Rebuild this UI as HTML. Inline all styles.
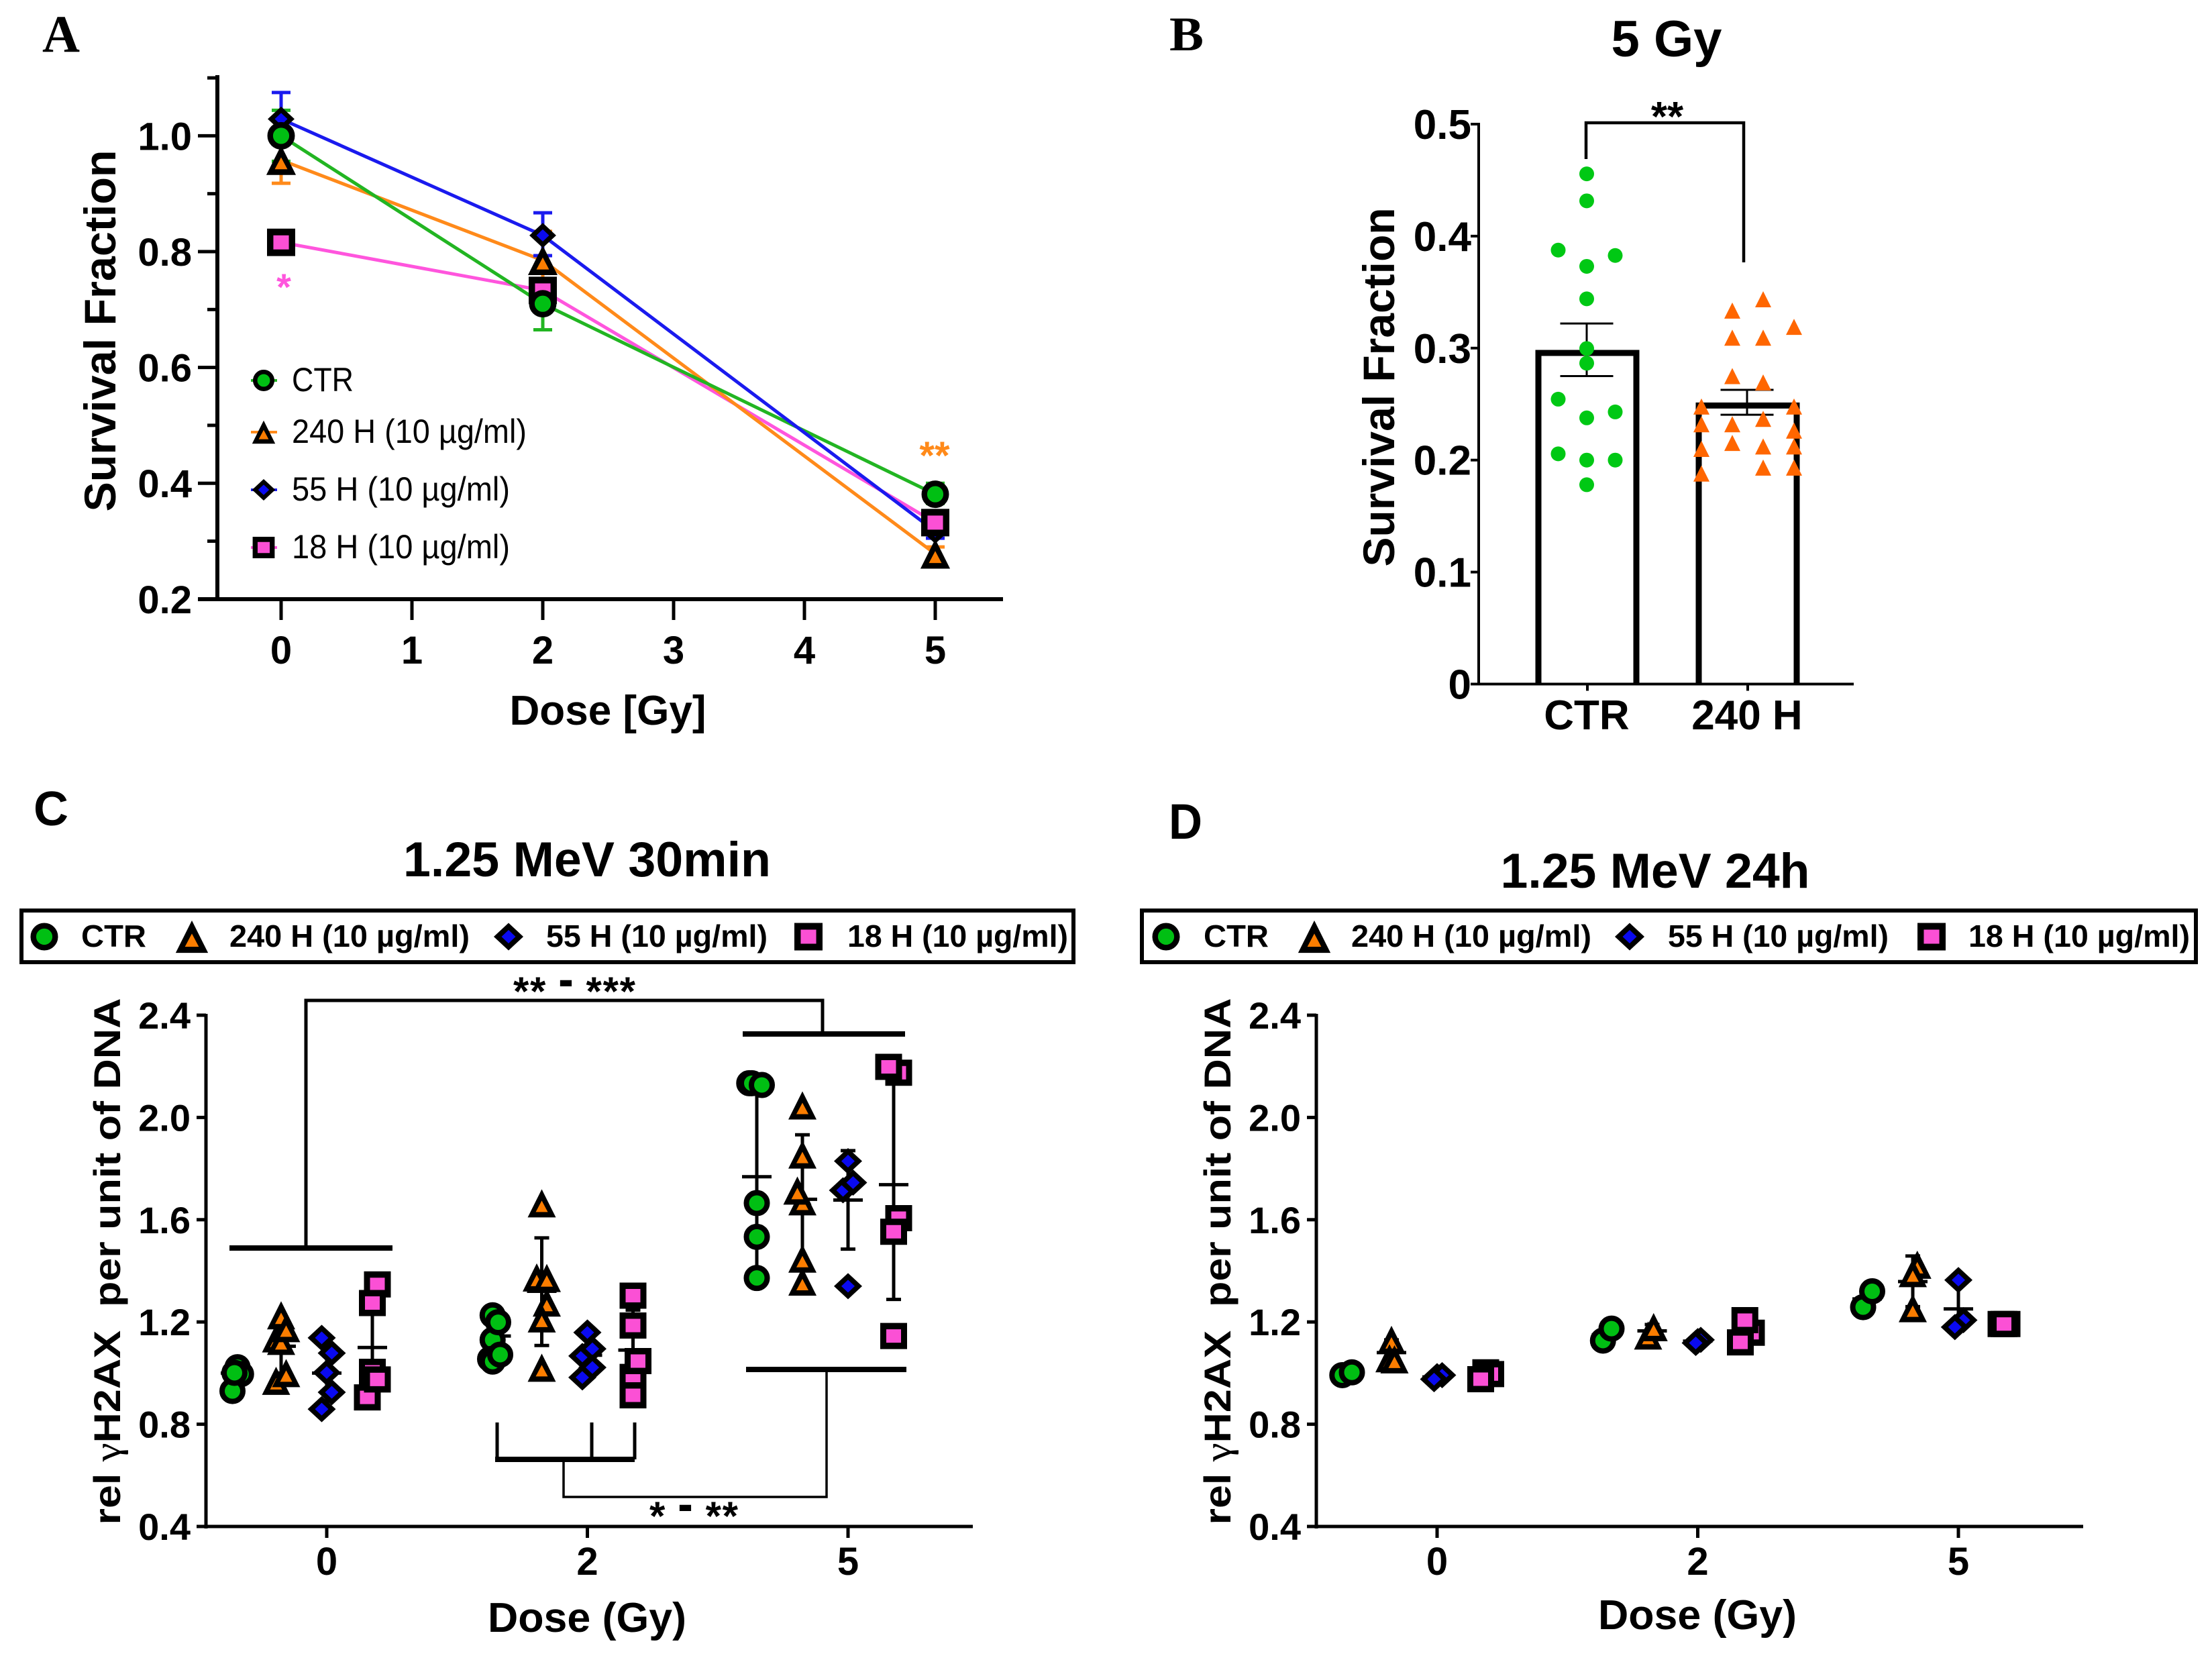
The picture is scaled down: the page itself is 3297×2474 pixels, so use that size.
<!DOCTYPE html>
<html lang="en">
<head>
<meta charset="utf-8">
<title>Survival fraction and γH2AX panels</title>
<style>
html,body{margin:0;padding:0;background:#fff}
svg{display:block}
text{font-family:"Liberation Sans",sans-serif;fill:#000}
.b{font-weight:700}
</style>
</head>
<body>
<svg id="fig" xmlns="http://www.w3.org/2000/svg" width="3297" height="2474" viewBox="0 0 3297 2474">
<rect width="3297" height="2474" fill="#fff"/>

<g id="panel-a">
  <text x="63" y="77" textLength="56" lengthAdjust="spacingAndGlyphs" style="font-family:'Liberation Serif',serif;font-weight:700;font-size:78px">A</text>
  <text class="b" transform="translate(172,493) rotate(-90)" text-anchor="middle" font-size="66" textLength="539" lengthAdjust="spacingAndGlyphs">Survival Fraction</text>
  <text class="b" x="906" y="1080" text-anchor="middle" font-size="62" textLength="293" lengthAdjust="spacingAndGlyphs">Dose [Gy]</text>
  <text class="b" x="423" y="447" text-anchor="middle" font-size="56" style="fill:#ff55dd">*</text>
  <text class="b" x="1393" y="699" text-anchor="middle" font-size="58" style="fill:#ff8a1a">**</text>
  <text x="435" y="583" font-size="50" textLength="92" lengthAdjust="spacingAndGlyphs">CTR</text>
  <text x="435" y="660" font-size="50" textLength="350" lengthAdjust="spacingAndGlyphs">240 H (10 µg/ml)</text>
  <text x="435" y="746" font-size="50" textLength="325" lengthAdjust="spacingAndGlyphs">55 H (10 µg/ml)</text>
  <text x="435" y="832" font-size="50" textLength="325" lengthAdjust="spacingAndGlyphs">18 H (10 µg/ml)</text>
</g>

<g id="panel-b">
  <text x="1743" y="75" textLength="51" lengthAdjust="spacingAndGlyphs" style="font-family:'Liberation Serif',serif;font-weight:700;font-size:72px">B</text>
  <text class="b" x="2484" y="84" text-anchor="middle" font-size="76" textLength="165" lengthAdjust="spacingAndGlyphs">5 Gy</text>
  <text class="b" transform="translate(2078,577) rotate(-90)" text-anchor="middle" font-size="66" textLength="535" lengthAdjust="spacingAndGlyphs">Survival Fraction</text>
  <text class="b" x="2485" y="195" text-anchor="middle" font-size="62">**</text>
</g>

<g id="panel-c">
  <text class="b" x="50" y="1230" font-size="72" textLength="52" lengthAdjust="spacingAndGlyphs">C</text>
  <text class="b" x="875" y="1306" text-anchor="middle" font-size="73" textLength="548" lengthAdjust="spacingAndGlyphs">1.25 MeV 30min</text>
  <rect x="32" y="1357" width="1568" height="77" fill="#fff" stroke="#000" stroke-width="6"/>
  <text class="b" x="121" y="1411" font-size="46" textLength="97" lengthAdjust="spacingAndGlyphs">CTR</text>
  <text class="b" x="342" y="1411" font-size="46" textLength="358" lengthAdjust="spacingAndGlyphs">240 H (10 µg/ml)</text>
  <text class="b" x="814" y="1411" font-size="46" textLength="330" lengthAdjust="spacingAndGlyphs">55 H (10 µg/ml)</text>
  <text class="b" x="1263" y="1411" font-size="46" textLength="329" lengthAdjust="spacingAndGlyphs">18 H (10 µg/ml)</text>
  <text class="b" transform="translate(179,1880) rotate(-90)" text-anchor="middle" font-size="56" textLength="785" lengthAdjust="spacingAndGlyphs">rel <tspan style="font-family:'Liberation Serif',serif;font-weight:400">γ</tspan>H2AX&#160;&#160;per unit of DNA</text>
  <text class="b" x="875" y="2432" text-anchor="middle" font-size="62" textLength="296" lengthAdjust="spacingAndGlyphs">Dose (Gy)</text>
  <path d="M456 1860V1491H1226V1543" fill="none" stroke="#000" stroke-width="5"/>
  <path d="M342 1860H585M1107 1541H1349M1112 2041H1351M738 2175H946" fill="none" stroke="#000" stroke-width="8"/>
  <path d="M741 2120V2175M882 2120V2175M946 2120V2175" fill="none" stroke="#000" stroke-width="5"/>
  <path d="M840 2175V2231H1232V2041" fill="none" stroke="#000" stroke-width="3.5"/>
  <text class="b" x="856" y="1498" text-anchor="middle" font-size="60" textLength="182" lengthAdjust="spacing">** <tspan dy="-17" stroke="#000" stroke-width="2">-</tspan><tspan dy="17"> ***</tspan></text>
  <text class="b" x="1034" y="2280" text-anchor="middle" font-size="60" textLength="132" lengthAdjust="spacing">* <tspan dy="-17" stroke="#000" stroke-width="2">-</tspan><tspan dy="17"> **</tspan></text>
</g>

<g id="panel-d">
  <text class="b" x="1742" y="1250" font-size="74" textLength="50" lengthAdjust="spacingAndGlyphs">D</text>
  <text class="b" x="2467" y="1323" text-anchor="middle" font-size="73" textLength="461" lengthAdjust="spacingAndGlyphs">1.25 MeV 24h</text>
  <rect x="1702" y="1357" width="1571" height="77" fill="#fff" stroke="#000" stroke-width="6"/>
  <text class="b" x="1794" y="1411" font-size="46" textLength="97" lengthAdjust="spacingAndGlyphs">CTR</text>
  <text class="b" x="2014" y="1411" font-size="46" textLength="358" lengthAdjust="spacingAndGlyphs">240 H (10 µg/ml)</text>
  <text class="b" x="2486" y="1411" font-size="46" textLength="329" lengthAdjust="spacingAndGlyphs">55 H (10 µg/ml)</text>
  <text class="b" x="2934" y="1411" font-size="46" textLength="330" lengthAdjust="spacingAndGlyphs">18 H (10 µg/ml)</text>
  <text class="b" transform="translate(1834,1880) rotate(-90)" text-anchor="middle" font-size="56" textLength="785" lengthAdjust="spacingAndGlyphs">rel <tspan style="font-family:'Liberation Serif',serif;font-weight:400">γ</tspan>H2AX&#160;&#160;per unit of DNA</text>
  <text class="b" x="2530" y="2428" text-anchor="middle" font-size="62" textLength="296" lengthAdjust="spacingAndGlyphs">Dose (Gy)</text>
</g>
</svg>

<script>
/* ---------- Panel A data ---------- */
const aDoses = [0, 2, 5];
const aXTicks = [0, 1, 2, 3, 4, 5];
const aYMajorTicks = ['0.2', '0.4', '0.6', '0.8', '1.0'];
const aYMinorTicks = [0.3, 0.5, 0.7, 0.9, 1.1];
const aCtrMean = [1.0, 0.71, 0.381];
const aCtrUpper = [1.044, 0.75, 0.40];
const aCtrLower = [0.956, 0.665, 0.365];
const a240Mean = [0.958, 0.785, 0.278];
const a240Upper = [1.0, 0.835, 0.29];
const a240Lower = [0.918, 0.735, 0.265];
const a55Mean = [1.029, 0.828, 0.317];
const a55Upper = [1.0748, 0.867, 0.33];
const a55Lower = [0.985, 0.793, 0.305];
const a18Mean = [0.816, 0.733, 0.332];
const a18Upper = [0.83, 0.75, 0.345];
const a18Lower = [0.80, 0.716, 0.32];

/* ---------- Panel B data ---------- */
const bCategories = ['CTR', '240 H'];
const bYTicks = ['0', '0.1', '0.2', '0.3', '0.4', '0.5'];
const bMeans = [0.2957, 0.2487];
const bUpper = [0.322, 0.2627];
const bLower = [0.275, 0.2405];
const bCtrValues = [0.4556, 0.4315, 0.3875, 0.3827, 0.373, 0.344, 0.2996, 0.2865, 0.2544, 0.243, 0.2377, 0.2056, 0.2, 0.2, 0.178];
const bCtrColumns = [0, 0, -1, 1, 0, 0, 0, 0, -1, 1, 0, -1, 0, 1, 0];
const b240Values = [0.3436, 0.3335, 0.319, 0.3093, 0.3093, 0.275, 0.2693, 0.2478, 0.2478, 0.2368, 0.232, 0.232, 0.2263, 0.2153, 0.2122, 0.2122, 0.21, 0.1933, 0.1933, 0.188];
const b240Columns = [0.5, -0.5, 1.5, -0.5, 0.5, -0.5, 0.5, -1.5, 1.5, 0.5, -1.5, -0.5, 1.5, -0.5, 0.5, 1.5, -1.5, 0.5, 1.5, -1.5];

/* ---------- Panel C data ---------- */
const cCategories = ['0', '2', '5'];
const gammaYTicks = ['0.4', '0.8', '1.2', '1.6', '2.0', '2.4'];
const cCtrValues = [[1.023, 0.996, 0.93, 1.001], [1.226, 1.13, 1.055, 1.045, 1.199, 1.072], [2.134, 2.134, 2.127, 1.665, 1.533, 1.372]];
const cCtrJitter = [[0.4, 1.1, -0.6, -0.2], [-0.7, -0.7, -1.2, -0.7, 0.4, 0.8], [-1.5, -1, 1, 0, 0, 0]];
const cCtrMean = [1.0, 1.145, 1.768];
const cCtrUpper = [1.04, 1.23, 2.13];
const cCtrLower = [0.96, 1.06, 1.40];
const c240Values = [[1.226, 1.136, 1.126, 1.176, 0.97, 1.0], [1.664, 1.374, 1.372, 1.276, 1.214, 1.021], [2.047, 1.855, 1.672, 1.714, 1.448, 1.358]];
const c240Jitter = [[0, -1, 0, 1, -1, 1], [0, -1, 1, 1, 0, 0], [0, 0, 0, -1, 0, 0]];
const c240Mean = [1.105, 1.32, 1.68];
const c240Upper = [1.2, 1.529, 1.932];
const c240Lower = [1.0, 1.108, 1.43];
const c55Values = [[1.138, 1.078, 1.002, 0.925, 0.859], [1.159, 1.067, 1.095, 0.983, 1.022], [1.829, 1.715, 1.745, 1.34]];
const c55Jitter = [[-1, 1, 0, 1, -1], [0, -1, 1, -1, 1], [0, -1, 1, 0]];
const c55Mean = [1.0, 1.07, 1.677];
const c55Upper = [1.11, 1.15, 1.87];
const c55Lower = [0.89, 0.99, 1.485];
const c18Values = [[1.347, 1.274, 0.905, 1.005, 0.975], [1.303, 1.186, 0.985, 0.913, 1.047], [2.175, 2.198, 1.606, 1.553, 1.145]];
const c18Jitter = [[1, 0, -1, 0, 1], [0, 0, 0, 0, 1], [1, -1, 1, 0, 0]];
const c18Mean = [1.10, 1.09, 1.737];
const c18Upper = [1.27, 1.246, 2.18];
const c18Lower = [0.93, 0.935, 1.288];

/* ---------- Panel D data ---------- */
const dCategories = ['0', '2', '5'];
const dCtrValues = [[0.992, 1.003], [1.127, 1.174], [1.258, 1.32]];
const dCtrJitter = [[-0.7, 1.2], [-0.7, 1], [-0.8, 1]];
const dCtrMean = [1.0, 1.15, 1.29];
const dCtrUpper = [1.0, 1.17, 1.32];
const dCtrLower = [0.99, 1.13, 1.26];
const d240Values = [[1.13, 1.058, 1.054], [1.147, 1.18], [1.424, 1.391, 1.254]];
const d240Jitter = [[0, -0.4, 0.6], [-0.8, 0.3], [0.9, 0, 0]];
const d240Mean = [1.08, 1.165, 1.358];
const d240Upper = [1.13, 1.19, 1.458];
const d240Lower = [1.04, 1.14, 1.26];
const d55Values = [[0.988, 0.992, 0.976], [1.125, 1.13, 1.118], [1.364, 1.207, 1.18]];
const d55Jitter = [[0, 1, -0.6], [0, 0.6, -0.4], [0, 1, -0.7]];
const d55Mean = [0.985, 1.125, 1.251];
const d55Upper = [0.99, 1.13, 1.364];
const d55Lower = [0.98, 1.12, 1.18];
const d18Values = [[1.003, 0.996, 0.976], [1.158, 1.207, 1.12], [1.192, 1.192, 1.192]];
const d18Jitter = [[0.6, 1.6, -0.4], [1.6, 0.3, -0.6], [0.6, -0.6, 0]];
const d18Mean = [0.99, 1.16, 1.192];
const d18Upper = [1.0, 1.2, 1.195];
const d18Lower = [0.98, 1.12, 1.19];

/* ---------- Styling ---------- */
const GREEN = '#00bf13', ORANGE = '#fb7d00', BLUE = '#0a0af0', PINK = '#fb50d5';
const NS = 'http://www.w3.org/2000/svg';

/* ---------- Axis functions ---------- */
function xA(v) { return 419 + v * 195; }
function yA(v) { return 202.4 + (1 - v) * 863; }
function xB(i) { return 2366 + i * 239; }
function yB(v) { return 1019.5 - v * 1669; }
function yG(v) { return 2275 - (v - 0.4) * 381; }
function xC(group, series, jitter) { return 487 + group * 388.5 + (series - 2) * 68 + jitter * 7.5; }
function xD(group, series, jitter) { return 2142 + group * 388.5 + (series - 2) * 68 + jitter * 7.5; }

/* ---------- Drawing helpers ---------- */
function add(tag, parent) {
  const el = document.createElementNS(NS, tag);
  parent.appendChild(el);
  return el;
}
function line(parent, x1, y1, x2, y2, color, width, name) {
  const el = add('line', parent);
  el.setAttribute('x1', x1);
  el.setAttribute('y1', y1);
  el.setAttribute('x2', x2);
  el.setAttribute('y2', y2);
  el.setAttribute('stroke', color);
  el.setAttribute('stroke-width', width);
  
  
  return el;
}
function label(parent, x, y, str, size, anchor, name) {
  const el = add('text', parent);
  el.setAttribute('x', x);
  el.setAttribute('y', y);
  el.setAttribute('font-size', size);
  el.setAttribute('font-weight', '700');
  el.setAttribute('text-anchor', anchor);
  el.textContent = str;
  
  
  return el;
}
function poly(parent, pts, fill) {
  const el = add('polygon', parent);
  el.setAttribute('points', pts);
  el.setAttribute('fill', fill);
  
  
}
function marker(parent, type, cx, cy, scale, fill, name) {
  const g = add('g', parent);
  g.setAttribute('transform', 'translate(' + cx + ',' + cy + ') scale(' + scale + ')');
  
  
  if (type === 'circle') {
    const c = add('circle', g);
    c.setAttribute('r', 15.5);
    c.setAttribute('fill', fill);
    c.setAttribute('stroke', '#000');
    c.setAttribute('stroke-width', 8);
    
    
  } else if (type === 'triangle') {
    poly(g, '0,-21 21,21 -21,21', '#000');
    poly(g, '0,-4 9,13 -9,13', fill);
  } else if (type === 'diamond') {
    poly(g, '21,0 0,19.5 -21,0 0,-19.5', '#000');
    poly(g, '10,0 0,9.5 -10,0 0,-9.5', fill);
  } else {
    poly(g, '-20,-19.5 20,-19.5 20,19.5 -20,19.5', '#000');
    poly(g, '-11,-10 11,-10 11,10 -11,10', fill);
  }
}
function errorBar(parent, x, yMean, yUp, yLow, capW, meanW, color, width, name) {
  line(parent, x, yUp, x, yLow, color, width, name + '-stem');
  line(parent, x - capW / 2, yUp, x + capW / 2, yUp, color, width, name + '-upper-cap');
  line(parent, x - capW / 2, yLow, x + capW / 2, yLow, color, width, name + '-lower-cap');
  if (meanW > 0) line(parent, x - meanW / 2, yMean, x + meanW / 2, yMean, color, width, name + '-mean');
}

/* ---------- Panel A ---------- */
(function () {
  const p = document.getElementById('panel-a');
  aYMinorTicks.forEach(function (v) { line(p, 309, yA(v), 324, yA(v), '#000', 5, 'y-minor-tick'); });
  aYMajorTicks.forEach(function (t) {
    const v = parseFloat(t);
    line(p, 295, yA(v), 324, yA(v), '#000', 5, 'y-tick');
    label(p, 286, yA(v) + 21, t, 58, 'end', 'y-tick-label');
  });
  aXTicks.forEach(function (v) {
    line(p, xA(v), 893, xA(v), 924, '#000', 5, 'x-tick');
    label(p, xA(v), 989, String(v), 58, 'middle', 'x-tick-label');
  });
  line(p, 324, 112, 324, 896, '#000', 6, 'y-axis');
  line(p, 295, 893, 1495, 893, '#000', 6, 'x-axis');

  const series = [
    { n: '18h', m: a18Mean, u: a18Upper, l: a18Lower, c: '#ff55dd', f: PINK, t: 'square' },
    { n: '240h', m: a240Mean, u: a240Upper, l: a240Lower, c: '#ff8a1a', f: ORANGE, t: 'triangle' },
    { n: 'ctr', m: aCtrMean, u: aCtrUpper, l: aCtrLower, c: '#22b522', f: GREEN, t: 'circle' },
    { n: '55h', m: a55Mean, u: a55Upper, l: a55Lower, c: '#1a1aee', f: BLUE, t: 'diamond' }
  ];
  series.forEach(function (s) {
    aDoses.forEach(function (d, i) {
      errorBar(p, xA(d), yA(s.m[i]), yA(s.u[i]), yA(s.l[i]), 28, 0, s.c, 5, 'error-bar-' + s.n);
    });
    const path = add('polyline', p);
    path.setAttribute('points', aDoses.map(function (d, i) { return xA(d) + ',' + yA(s.m[i]); }).join(' '));
    path.setAttribute('fill', 'none');
    path.setAttribute('stroke', s.c);
    path.setAttribute('stroke-width', 5);
    
    
  });
  [series[1], series[3], series[0], series[2]].forEach(function (s) {
    aDoses.forEach(function (d, i) {
      marker(p, s.t, xA(d), yA(s.m[i]), s.t === 'diamond' ? 0.95 : 1.05, s.f, 'point-' + s.n);
    });
  });
  const legendRows = [
    { n: 'ctr', c: '#22b522', f: GREEN, t: 'circle', k: 567 },
    { n: '240h', c: '#ff8a1a', f: ORANGE, t: 'triangle', k: 644 },
    { n: '55h', c: '#1a1aee', f: BLUE, t: 'diamond', k: 730 },
    { n: '18h', c: '#ff55dd', f: PINK, t: 'square', k: 816 }
  ];
  legendRows.forEach(function (r) {
    line(p, 374, r.k, 413, r.k, r.c, 4, 'legend-line-' + r.n);
    marker(p, r.t, 393, r.k, 0.82, r.f, 'legend-marker-' + r.n);
  });
})();

/* ---------- Panel B ---------- */
(function () {
  const p = document.getElementById('panel-b');
  bYTicks.forEach(function (t) {
    const v = parseFloat(t);
    line(p, 2192, yB(v), 2204, yB(v), '#000', 4, 'y-tick');
    label(p, 2193, yB(v) + 22, t, 62, 'end', 'y-tick-label');
  });
  bMeans.forEach(function (m, i) {
    const r = add('path', p);
    r.setAttribute('d', 'M' + (xB(i) - 73) + ' ' + yB(0) + 'V' + yB(m) + 'H' + (xB(i) + 73) + 'V' + yB(0));
    r.setAttribute('fill', '#fff');
    r.setAttribute('stroke', '#000');
    r.setAttribute('stroke-width', 9);
    
    
    line(p, xB(i), yB(0), xB(i), yB(0) + 10, '#000', 4, 'x-tick');
    label(p, xB(i) - 1, 1087, bCategories[i], 62, 'middle', 'x-tick-label');
    errorBar(p, xB(i) - 1, yB(m), yB(bUpper[i]), yB(bLower[i]), 79, 0, '#000', 3, 'error-bar');
  });
  line(p, 2204, 183, 2204, 1021, '#000', 4, 'y-axis');
  line(p, 2192, 1019.5, 2763, 1019.5, '#000', 4, 'x-axis');
  bCtrValues.forEach(function (v, i) {
    const c = add('circle', p);
    c.setAttribute('cx', xB(0) - 1 + bCtrColumns[i] * 42.5);
    c.setAttribute('cy', yB(v));
    c.setAttribute('r', 11);
    c.setAttribute('fill', '#00c814');
    
    
  });
  b240Values.forEach(function (v, i) {
    const x = xB(1) + b240Columns[i] * 46, y = yB(v);
    const t = add('polygon', p);
    t.setAttribute('points', x + ',' + (y - 12) + ' ' + (x + 12) + ',' + (y + 12) + ' ' + (x - 12) + ',' + (y + 12));
    t.setAttribute('fill', '#ff6600');
    
    
  });
  const br = add('path', p);
  br.setAttribute('d', 'M' + (xB(0) - 2) + ' 237V183H' + (xB(1) - 6) + 'V391');
  br.setAttribute('fill', 'none');
  br.setAttribute('stroke', '#000');
  br.setAttribute('stroke-width', 4.5);
  
  
})();

/* ---------- Panels C and D ---------- */
function gammaPanel(p, xf, axisX, xEnd, cats, tickX, data, legendX) {
  gammaYTicks.forEach(function (t) {
    const v = parseFloat(t);
    line(p, axisX - 14, yG(v), axisX, yG(v), '#000', 5, 'y-tick');
    label(p, axisX - 23, yG(v) + 20, t, 56, 'end', 'y-tick-label');
  });
  cats.forEach(function (c, g) {
    const x = tickX(g);
    line(p, x, 2275, x, 2292, '#000', 5, 'x-tick');
    label(p, x, 2347, c, 58, 'middle', 'x-tick-label');
  });
  line(p, axisX, 1511, axisX, 2278, '#000', 5, 'y-axis');
  line(p, axisX - 14, 2275, xEnd, 2275, '#000', 5, 'x-axis');
  data.forEach(function (s, si) {
    cats.forEach(function (c, g) {
      errorBar(p, xf(g, si, 0), yG(s.m[g]), yG(s.u[g]), yG(s.l[g]), 22, 44, '#000', 5, 'error-bar-' + s.n);
    });
  });
  data.forEach(function (s, si) {
    cats.forEach(function (c, g) {
      s.v[g].forEach(function (v, i) {
        marker(p, s.t, xf(g, si, s.j[g][i]), yG(v), 1, s.f, 'point-' + s.n);
      });
    });
  });
  data.forEach(function (s, si) {
    marker(p, s.t, legendX[si], 1396, s.t === 'triangle' ? 1.15 : 1.05, s.f, 'legend-marker-' + s.n);
  });
}
gammaPanel(document.getElementById('panel-c'), xC, 307, 1450, cCategories,
  function (g) { return xC(g, 2, 0); },
  [
    { n: 'ctr', t: 'circle', f: GREEN, v: cCtrValues, j: cCtrJitter, m: cCtrMean, u: cCtrUpper, l: cCtrLower },
    { n: '240h', t: 'triangle', f: ORANGE, v: c240Values, j: c240Jitter, m: c240Mean, u: c240Upper, l: c240Lower },
    { n: '55h', t: 'diamond', f: BLUE, v: c55Values, j: c55Jitter, m: c55Mean, u: c55Upper, l: c55Lower },
    { n: '18h', t: 'square', f: PINK, v: c18Values, j: c18Jitter, m: c18Mean, u: c18Upper, l: c18Lower }
  ], [66, 286, 758, 1205]);
gammaPanel(document.getElementById('panel-d'), xD, 1962, 3105, dCategories,
  function (g) { return xD(g, 2, 0); },
  [
    { n: 'ctr', t: 'circle', f: GREEN, v: dCtrValues, j: dCtrJitter, m: dCtrMean, u: dCtrUpper, l: dCtrLower },
    { n: '240h', t: 'triangle', f: ORANGE, v: d240Values, j: d240Jitter, m: d240Mean, u: d240Upper, l: d240Lower },
    { n: '55h', t: 'diamond', f: BLUE, v: d55Values, j: d55Jitter, m: d55Mean, u: d55Upper, l: d55Lower },
    { n: '18h', t: 'square', f: PINK, v: d18Values, j: d18Jitter, m: d18Mean, u: d18Upper, l: d18Lower }
  ], [1738, 1959, 2429, 2879]);
</script>
</body>
</html>
